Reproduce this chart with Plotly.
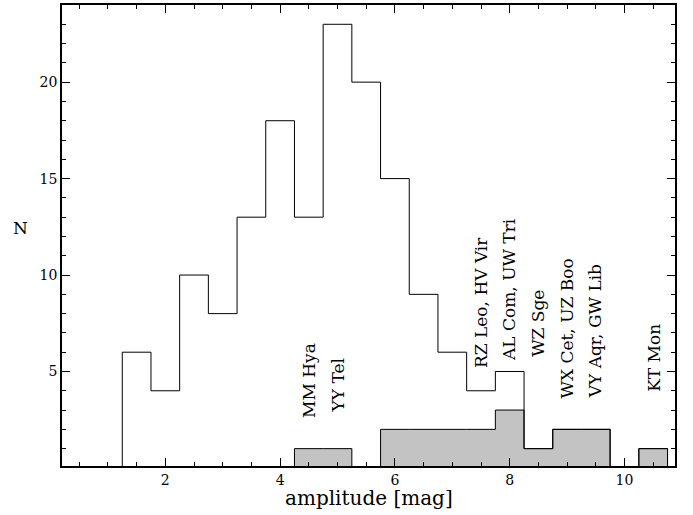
import plotly.graph_objects as go

# histogram of all systems (bin left edges, width 0.5 mag)
bin_left = [1.25, 1.75, 2.25, 2.75, 3.25, 3.75, 4.25, 4.75, 5.25, 5.75, 6.25, 6.75,
            7.25, 7.75, 8.25, 8.75, 9.25, 9.75, 10.25]
all_counts = [6, 4, 10, 8, 13, 18, 13, 23, 20, 15, 9, 6, 4, 5, 1, 2, 2, 0, 1]
# highlighted (gray) subset
sub_counts = [0, 0, 0, 0, 0, 0, 1, 1, 0, 2, 2, 2, 2, 3, 1, 2, 2, 0, 1]
bin_width = 0.5

# labels of individual objects
label_text = ["MM Hya", "YY Tel", "RZ Leo, HV Vir", "AL Com, UW Tri", "WZ Sge",
              "WX Cet, UZ Boo", "VY Aqr, GW Lib", "KT Mon"]
label_x = [4.5, 5.0, 7.5, 8.0, 8.5, 9.0, 9.5, 10.5]
label_y = [2.5, 2.75, 5.05, 5.45, 5.65, 3.5, 3.5, 3.85]

FONT = "DejaVu Serif"

fig = go.Figure()

end_edge = bin_left[-1] + bin_width

# gray filled step histogram
gx = [bin_left[0]] + bin_left + [end_edge]
gy = [0] + sub_counts + [0]
fig.add_trace(go.Scatter(x=gx, y=gy, mode="lines", line=dict(shape="hv", color="black", width=1),
                         fill="tozeroy", fillcolor="#c3c3c3",
                         showlegend=False, hoverinfo="skip"))

# step outline of full sample
ox = [bin_left[0]] + bin_left + [end_edge]
oy = [0] + all_counts + [0]
fig.add_trace(go.Scatter(x=ox, y=oy, mode="lines", line=dict(shape="hv", color="black", width=1),
                         showlegend=False, hoverinfo="skip"))

for t, x, y in zip(label_text, label_x, label_y):
    fig.add_annotation(x=x, y=y, xref="x", yref="y", text=t, textangle=-90,
                       showarrow=False, xanchor="center", yanchor="bottom",
                       font=dict(family=FONT, size=17, color="black"))

fig.add_annotation(x=-0.068, y=0.516, xref="paper", yref="paper", text="N", showarrow=False,
                   xanchor="center", yanchor="middle", font=dict(family=FONT, size=17, color="black"))
fig.add_annotation(x=0.5, y=-0.069, xref="paper", yref="paper", text="amplitude [mag]",
                   showarrow=False, xanchor="center", yanchor="middle",
                   font=dict(family=FONT, size=20, color="black"))

axis_common = dict(showline=True, linecolor="black", linewidth=1.5, mirror="ticks",
                   ticks="inside", ticklen=8, tickwidth=1, tickcolor="black",
                   showgrid=False, zeroline=False,
                   tickfont=dict(family=FONT, size=14, color="black"))

fig.update_xaxes(range=[0.2, 10.88], tickmode="array", tickvals=[2, 4, 6, 8, 10],
                 minor=dict(ticks="inside", dtick=0.5, tick0=0, ticklen=4, tickcolor="black", showgrid=False),
                 **axis_common)
fig.update_yaxes(range=[0.1, 24], tickmode="array", tickvals=[5, 10, 15, 20],
                 minor=dict(ticks="inside", dtick=1, tick0=0, ticklen=4, tickcolor="black", showgrid=False),
                 **axis_common)

fig.update_layout(width=693, height=515, margin=dict(l=62, r=18, t=3, b=49),
                  plot_bgcolor="white", paper_bgcolor="white")

fig.write_html("out.html")
